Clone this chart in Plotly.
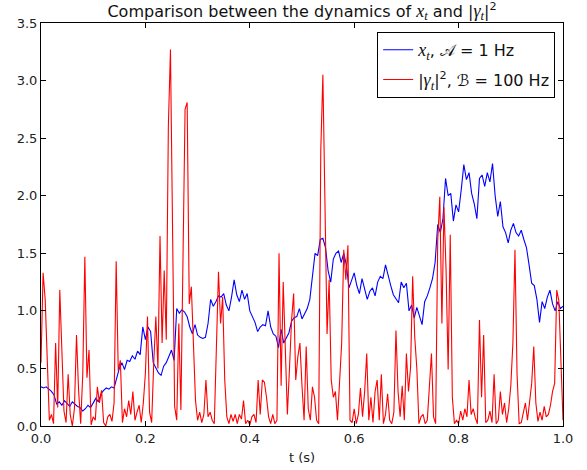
import numpy as np
import plotly.graph_objects as go

# blue: x_t sampled every 0.005 s
blue_dt = 0.005
blue_vals = [
    0.34, 0.33, 0.34, 0.32, 0.30, 0.27, 0.19, 0.21, 0.18, 0.22,
    0.19, 0.17, 0.21, 0.19, 0.17, 0.16, 0.13, 0.15, 0.18, 0.16,
    0.20, 0.24, 0.21, 0.28, 0.31, 0.33, 0.32, 0.34, 0.33, 0.42,
    0.50, 0.55, 0.49, 0.57, 0.56, 0.61, 0.58, 0.65, 0.62, 0.86,
    0.75, 0.86, 0.82, 0.55, 0.50, 0.46, 0.44, 0.52, 0.55, 0.60,
    0.66, 0.57, 1.02, 0.98, 1.01, 0.99, 0.95, 0.86, 0.80, 0.88,
    0.79, 0.77, 0.76, 0.77, 0.89, 1.10, 1.04, 1.08, 1.13, 1.12,
    1.15, 1.05, 1.00, 1.12, 1.27, 1.14, 1.08, 1.18, 1.10, 1.15,
    1.00, 0.95, 0.90, 0.82, 0.86, 0.88, 0.87, 1.00, 0.86, 0.80,
    0.78, 0.68, 0.84, 0.72, 0.76, 0.81, 0.91, 0.94, 0.95, 1.02,
    0.93, 0.97, 1.02, 1.10, 1.30, 1.50, 1.48, 1.62, 1.63, 1.55,
    1.35, 1.25, 1.45, 1.50, 1.52, 1.42, 1.50, 1.40, 1.20, 1.27,
    1.33, 1.22, 1.15, 1.28, 1.18, 1.10, 1.17, 1.20, 1.13, 1.25,
    1.30, 1.28, 1.40, 1.30, 1.22, 1.14, 1.10, 1.07, 1.25, 1.20,
    1.24, 1.00, 1.05, 0.94, 1.03, 0.95, 0.88, 1.08, 1.13, 1.20,
    1.28, 1.42, 1.75, 1.68, 1.80, 2.15, 2.00, 2.02, 1.78, 1.92,
    1.86, 2.05, 2.27, 2.14, 2.20, 2.02, 1.93, 1.80, 2.15, 2.18,
    2.08, 2.20, 2.12, 2.28, 2.00, 1.82, 1.95, 1.73, 1.68, 1.59,
    1.70, 1.76, 1.68, 1.65, 1.70, 1.62, 1.55, 1.40, 1.24, 1.22,
    1.10, 0.90, 1.08, 1.02, 1.12, 1.18, 1.06, 1.00, 1.08, 1.02,
    1.04,
]

# red: |gamma_t|^2 sampled every 0.004 s
red_dt = 0.004
red_vals = [
    0.55, 1.33, 1.10, 0.62, 0.05, 0.10, 0.02, 0.72, 0.16, 1.18,
    0.72, 0.13, 0.03, 0.45, 0.10, 0.00, 0.15, 0.79, 0.31, 0.02,
    0.45, 1.47, 0.42, 0.66, 0.01, 0.08, 0.05, 0.34, 0.20, 0.31,
    0.03, 0.00, 0.08, 0.10, 0.04, 0.20, 1.43, 0.48, 0.57, 0.03,
    0.15, 0.08, 0.22, 0.10, 0.30, 0.05, 0.12, 0.18, 0.03, 0.20,
    0.46, 0.95, 0.12, 0.03, 0.55, 0.95, 0.50, 1.65, 0.72, 1.35,
    0.75, 2.61, 3.27, 1.41, 0.17, 0.05, 0.89, 0.14, 1.30, 2.75,
    2.81, 1.06, 1.21, 0.74, 0.22, 0.05, 0.12, 0.03, 0.10, 0.40,
    0.08, 0.12, 0.05, 0.02, 0.69, 1.34, 0.89, 1.12, 0.40, 0.08,
    0.02, 0.10, 0.04, 0.10, 0.02, 0.10, 0.06, 0.22, 0.02, 0.05,
    0.01, 0.08, 0.10, 0.03, 0.40, 0.10, 0.40, 0.38, 0.25, 0.08,
    0.02, 0.10, 0.02, 0.05, 1.50, 0.35, 1.25, 0.70, 0.10, 0.50,
    0.92, 1.15, 0.40, 0.60, 0.72, 0.35, 0.05, 0.69, 0.15, 0.05,
    0.34, 0.25, 0.05, 0.02, 2.40, 3.05, 1.70, 0.80, 1.27, 0.40,
    0.25, 0.30, 0.05, 0.36, 0.72, 1.53, 1.27, 1.57, 0.05, 0.03,
    0.15, 0.02, 0.10, 0.33, 0.08, 0.30, 0.63, 0.05, 0.25, 0.03,
    0.30, 0.40, 0.05, 0.45, 0.02, 0.10, 0.28, 0.05, 0.02, 0.12,
    0.83, 0.30, 0.08, 0.35, 0.05, 0.63, 0.30, 0.51, 1.30, 0.77,
    0.50, 0.02, 0.08, 0.10, 0.02, 0.05, 0.31, 0.63, 0.08, 0.02,
    1.61, 1.99, 0.89, 1.90, 1.35, 0.49, 1.66, 0.25, 0.02, 0.05,
    0.02, 0.13, 0.05, 0.15, 0.08, 0.40, 0.10, 0.15, 0.07, 0.02,
    0.92, 0.25, 0.79, 0.03, 0.05, 0.13, 0.03, 0.45, 0.02, 0.05,
    0.30, 0.10, 0.20, 0.03, 0.15, 0.35, 0.72, 1.53, 0.45, 0.02,
    0.03, 0.12, 0.20, 0.05, 0.22, 0.37, 0.69, 0.20, 0.04, 0.12,
    0.05, 0.17, 0.08, 0.10, 0.18, 0.30, 0.37, 1.18, 1.09, 0.54,
    0.05,
]

x_ticks = [0.0, 0.2, 0.4, 0.6, 0.8, 1.0]
y_ticks = [0.0, 0.5, 1.0, 1.5, 2.0, 2.5, 3.0, 3.5]


def m(s):
    """math-style (serif italic) fragment"""
    return ("<span style=\"font-family:'Liberation Serif',serif;font-size:18px\"><i>"
            + s + "</i></span>")


title_text = ("Comparison between the dynamics of " + m("x<sub>t</sub>") +
              " and |" + m("γ<sub>t</sub>") + "|<sup>2</sup>")
blue_name = m("x<sub>t</sub>") + ", 𝒜 = 1 Hz"
red_name = "|" + m("γ<sub>t</sub>") + "|<sup>2</sup>, ℬ = 100 Hz"

t_blue = np.arange(len(blue_vals)) * blue_dt
t_red = np.arange(len(red_vals)) * red_dt

FONT = "DejaVu Sans"

fig = go.Figure()
fig.add_trace(go.Scatter(x=t_blue, y=blue_vals, mode="lines", name=blue_name,
                         legendgroup="a",
                         line=dict(color="#0000ff", width=1.1)))
fig.add_trace(go.Scatter(x=t_red, y=red_vals, mode="lines", name=red_name,
                         legendgroup="b",
                         line=dict(color="#ff0000", width=1.1)))

axis_common = dict(
    showgrid=False, zeroline=False, showline=True, linecolor="black",
    linewidth=1, mirror="ticks", ticks="inside", ticklen=5, tickcolor="black",
    tickfont=dict(family=FONT, size=13, color="#222222"), tickformat=".1f",
    automargin=False,
)
fig.update_xaxes(range=[0, 1], tickvals=x_ticks,
                 title=dict(text="t (s)", font=dict(family=FONT, size=13, color="#222222"),
                            standoff=8),
                 **axis_common)
fig.update_yaxes(range=[0, 3.5], tickvals=y_ticks, **axis_common)

fig.update_layout(
    width=587, height=470,
    margin=dict(l=41, r=24, t=23, b=44, pad=0),
    paper_bgcolor="white", plot_bgcolor="white",
    title=dict(text=title_text, x=302 / 587, xref="container", xanchor="center",
               y=1 - 11 / 470, yref="container", yanchor="middle",
               font=dict(family=FONT, size=16, color="#111111")),
    legend=dict(x=0.985, y=0.978, xanchor="right", yanchor="top",
                bgcolor="white", bordercolor="black", borderwidth=1,
                font=dict(family=FONT, size=16, color="#111111"),
                tracegroupgap=6),
    showlegend=True,
)

fig.write_html("out.html", config={"displayModeBar": False},
               post_script="document.body.style.margin='0';")
